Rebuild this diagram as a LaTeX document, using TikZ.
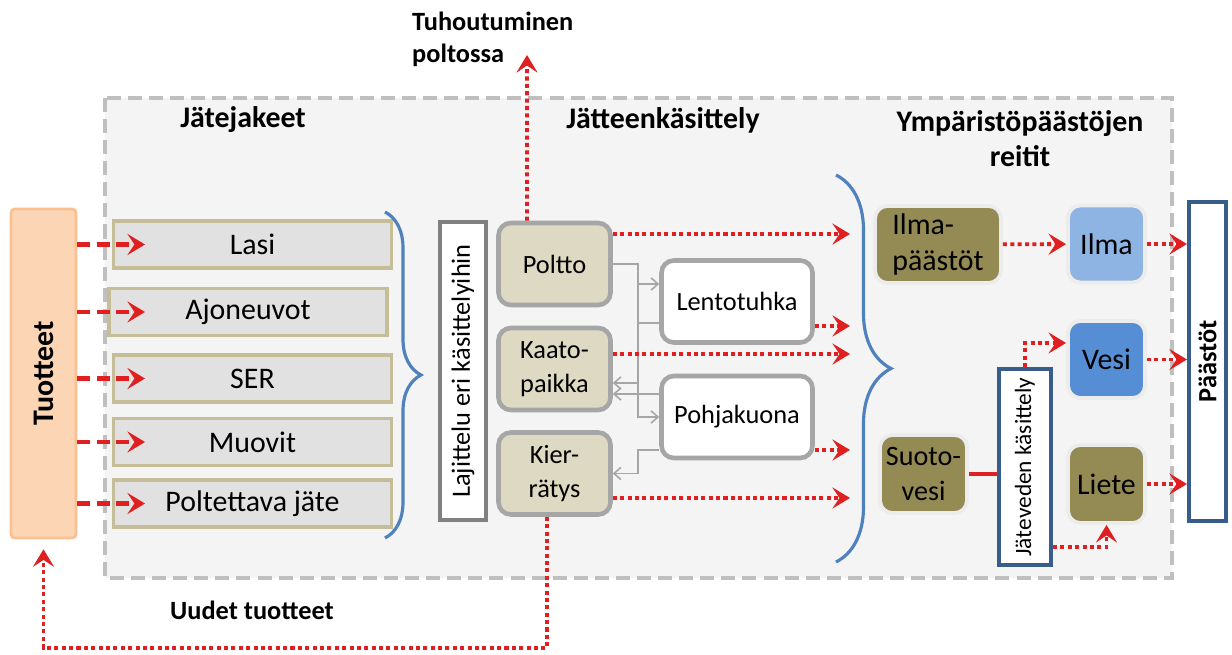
\documentclass[tikz,border=0pt]{standalone}
\usepackage{fontspec}
\setmainfont{Carlito}
\usetikzlibrary{arrows.meta, decorations.pathreplacing, calc}

\definecolor{redarrow}{HTML}{E02020}
\definecolor{tanedge}{HTML}{C4BD97}
\definecolor{wastefill}{HTML}{E1E1E1}
\definecolor{treatfill}{HTML}{DDD9C3}
\definecolor{treatedge}{HTML}{A6A6A6}
\definecolor{olivefill}{HTML}{948A54}
\definecolor{airblue}{HTML}{8EB4E3}
\definecolor{waterblue}{HTML}{558ED5}
\definecolor{navyedge}{HTML}{385D8A}
\definecolor{bracebl}{HTML}{4F81BD}
\definecolor{peach}{HTML}{FCD5B5}
\definecolor{peachedge}{HTML}{FAC090}
\definecolor{regionfill}{HTML}{F4F4F4}
\definecolor{regionedge}{HTML}{BFBFBF}

\begin{document}
\begin{tikzpicture}[
    x=0.02cm, y=-0.02cm,
    >={Stealth[length=10pt, width=12pt, inset=4pt]},
    regionbox/.style={draw=regionedge, fill=regionfill, line width=2.2pt, dash pattern=on 8pt off 4pt},
    hdr/.style={font=\bfseries\fontsize{17}{20}\selectfont, align=center},
    notetext/.style={font=\bfseries\fontsize{15}{18.2}\selectfont, align=left},
    prodbox/.style={rectangle, rounded corners=2pt, draw=peachedge, fill=peach, line width=1.5pt, rotate=90, minimum width=6.58cm, minimum height=1.3cm, font=\bfseries\fontsize{17}{20}\selectfont},
    wastebox/.style={rectangle, draw=tanedge, fill=wastefill, line width=2.2pt, minimum width=5.56cm, minimum height=0.94cm, font=\fontsize{17}{20}\selectfont},
    sortbox/.style={rectangle, draw=gray, fill=white, line width=2.3pt, rotate=90, minimum width=5.96cm, minimum height=0.92cm, font=\fontsize{15}{18}\selectfont},
    treatbox/.style={rectangle, rounded corners=7pt, draw=treatedge, fill=treatfill, line width=2.6pt, minimum width=2.24cm, minimum height=1.64cm, align=center, font=\fontsize{15}{19}\selectfont},
    ashbox/.style={treatbox, fill=white, minimum width=3.02cm},
    emitbox/.style={rectangle, rounded corners=7pt, draw=gray!15, fill=olivefill, line width=2.2pt, align=center, minimum width=1.54cm, minimum height=1.54cm, font=\fontsize{17}{20}\selectfont},
    outbox/.style={rectangle, draw=navyedge, fill=white, line width=2.3pt, rotate=90},
    sortbrace/.style={decorate, decoration={brace, amplitude=0.72cm}, bracebl, line width=1.8pt},
    flow/.style={->, redarrow, line width=2.2pt, dash pattern=on 2.3pt off 1.9pt},
    feed/.style={->, redarrow, line width=2.5pt, dash pattern=on 7.5pt off 3.5pt},
    sidearrow/.style={-{Straight Barb[length=4pt, width=7pt]}, treatedge, line width=0.9pt},
]
\useasboundingbox (0,0) rectangle (1232,655);

% region
\draw[regionbox] (105,98) rectangle (1172,578);

% headers
\node[hdr] (hjate) at (243,120) {Jätejakeet};
\node[hdr] (hkasit) at (663,120) {Jätteenkäsittely};
\node[hdr] (hreitit) at (1020,139) {Ympäristöpäästöjen\\reitit};
\node[notetext, anchor=west] (tuho) at (406,39) {Tuhoutuminen\\poltossa};
\node[notetext] (uudet) at (252,610) {Uudet tuotteet};

% products and waste fractions
\node[prodbox] (tuotteet) at (43.5,373.5) {Tuotteet};
\node[wastebox] (lasi) at (252.5,244.5) {Lasi};
\node[wastebox] (ajon) at (248,312) {Ajoneuvot};
\node[wastebox] (ser) at (252.5,378.5) {SER};
\node[wastebox] (muovit) at (252.5,442) {Muovit};
\node[wastebox] (poltettava) at (252.5,503.5) {Poltettava jäte};

% sorting and treatment
\node[sortbox] (lajittelu) at (463,371) {Lajittelu eri käsittelyihin};
\node[treatbox] (poltto) at (554.5,264) {Poltto};
\node[treatbox] (kaato) at (554.5,369) {Kaato-\\paikka};
\node[treatbox] (kier) at (554.5,473.5) {Kier-\\rätys};
\node[ashbox] (lento) at (737,301.5) {Lentotuhka};
\node[ashbox] (pohja) at (737,417) {Pohjakuona};

% emission routes
\node[emitbox, minimum width=2.52cm, align=left] (ilmap) at (938,244.5) {Ilma-\\päästöt};
\node[emitbox, fill=airblue] (ilma) at (1106.5,244) {Ilma};
\node[emitbox, fill=waterblue] (vesi) at (1106.5,359.5) {Vesi};
\node[emitbox, minimum width=1.74cm, minimum height=1.56cm, font=\fontsize{16}{20}\selectfont] (suoto) at (923.5,474) {Suoto-\\vesi};
\node[emitbox, minimum height=1.56cm] (liete) at (1106.5,484) {Liete};
\node[outbox, minimum width=3.92cm, minimum height=1.04cm, font=\fontsize{13.3}{16}\selectfont] (jatevesi) at (1025,467) {Jäteveden käsittely};
\node[outbox, minimum width=6.38cm, minimum height=0.74cm, font=\bfseries\fontsize{15}{18}\selectfont] (paastot) at (1207.5,361.5) {Päästöt};

% braces
\draw[sortbrace] (385,212) -- (385,538);
\draw[sortbrace, decoration={brace, amplitude=1.1cm}] (836,175) -- (836,562);

% helper coordinates
\coordinate (feedend) at (145,0);
\coordinate (trunk) at (638,0);
\coordinate (inbr) at (850,0);
\coordinate (loopy) at (0,648);
\coordinate (tuhotip) at (527,55);

% products to fractions
\foreach \f in {lasi, ajon, ser, muovit, poltettava}
  \draw[feed] (tuotteet.south |- \f) -- (feedend |- \f);

% ash routes
\draw[sidearrow] (poltto.east) -- (poltto.east -| trunk) |- ([yshift=0.35cm]lento.west);
\draw[sidearrow] (poltto.east -| trunk) |- (pohja.west);
\coordinate (lk) at ([yshift=-0.43cm]lento.west);
\draw[sidearrow] (lk) -- (lk -| trunk) |- ([yshift=-0.28cm]kaato.east);
\coordinate (pk) at ([yshift=0.46cm]pohja.west);
\draw[sidearrow] (pk) -- (pk -| kaato.east);
\coordinate (pr) at ([yshift=-0.66cm]pohja.west);
\draw[sidearrow] (pr) -- (pr -| trunk) |- (kier.east);

% treatment to emission routes
\coordinate (r1) at ([yshift=0.6cm]poltto.east);
\coordinate (r2) at ([yshift=-0.49cm]lento.east);
\coordinate (r3) at ([yshift=0.3cm]kaato.east);
\coordinate (r4) at ([yshift=-0.66cm]pohja.east);
\coordinate (r5) at ([yshift=-0.49cm]kier.east);
\foreach \r in {r1, r2, r3, r4, r5}
  \draw[flow] (\r) -- (\r -| inbr);

\draw[flow] ([xshift=-0.55cm]poltto.north) -- (tuhotip);
\draw[flow, shorten >=0.2cm] ([xshift=-0.15cm]kier.south) |- (loopy -| tuotteet.west) -- (tuotteet.west);

% to emissions
\draw[flow] (ilmap) -- (ilma);
\draw[flow] (ilma.east) -- (ilma.east -| paastot.north);
\draw[flow] (vesi.east) -- (vesi.east -| paastot.north);
\draw[flow] (liete.east) -- (liete.east -| paastot.north);
\draw[redarrow, line width=2.2pt] (suoto.east) -- (suoto.east -| jatevesi.north);
\draw[flow] (jatevesi.east) |- ([yshift=0.33cm]vesi.west);
\draw[flow] ([yshift=-1.6cm]jatevesi.south) -| (liete.south);

\end{tikzpicture}
\end{document}
